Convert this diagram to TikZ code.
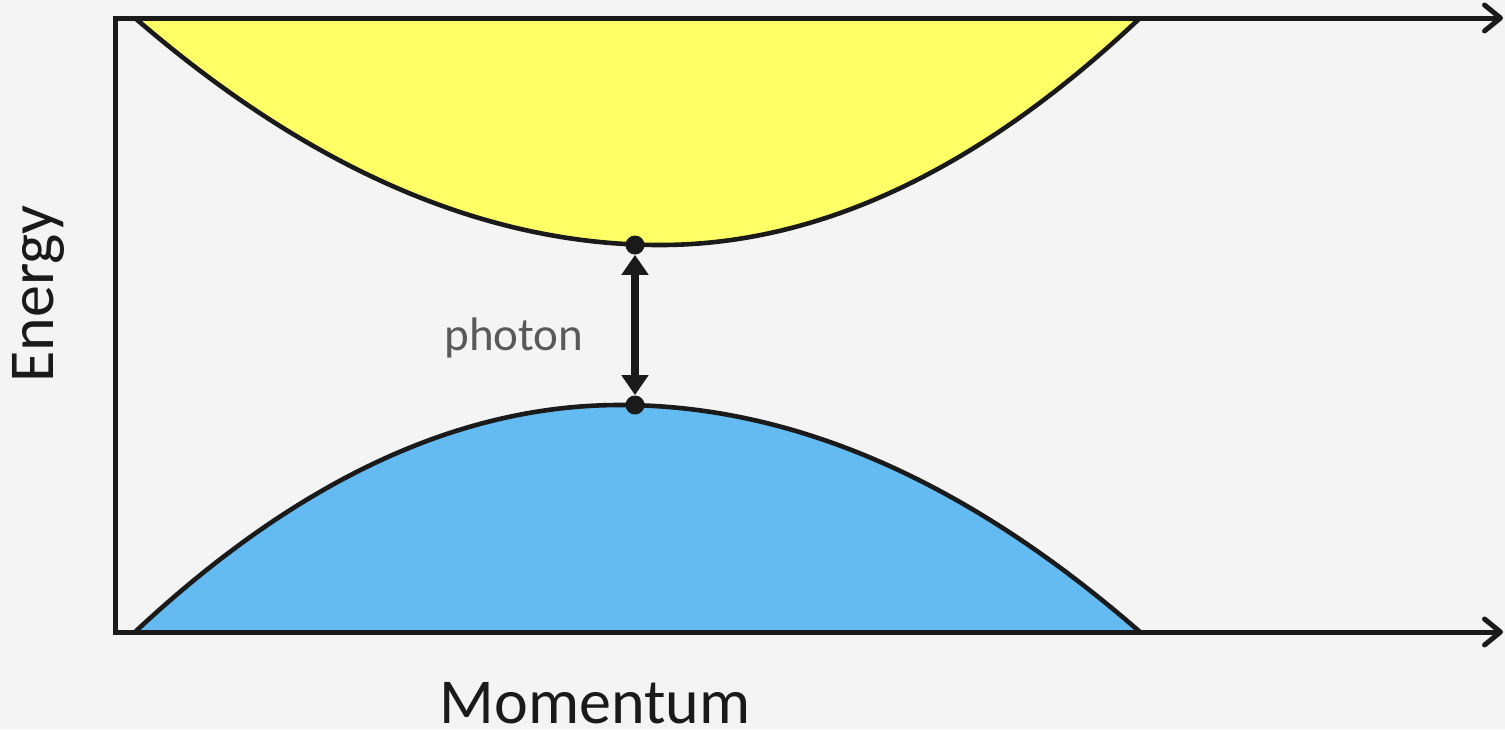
\documentclass[tikz,border=0pt]{standalone}
\usepackage{fontspec}
\setmainfont{Carlito}
\usetikzlibrary{arrows.meta}
\definecolor{bg}{HTML}{F4F4F4}
\definecolor{ink}{HTML}{1A1A1A}
\definecolor{cband}{HTML}{FFFF66}
\definecolor{vband}{HTML}{63BBF2}
\definecolor{lbl}{HTML}{595959}
\tikzset{
  axisline/.style={draw=ink, line width=2.5pt, -{Straight Barb[length=8pt,width=13pt,line width=2.5pt,round]}},
  bandline/.style={draw=ink, line width=2.3pt},
  dotnode/.style={circle, fill=ink, inner sep=0pt, minimum size=9.5pt},
  axislabel/.style={text=ink, inner sep=0pt, font=\fontsize{32}{38}\selectfont},
}
\begin{document}
\begin{tikzpicture}[x=0.5pt,y=-0.5pt]
\useasboundingbox (0,0) rectangle (1505,729);
\fill[bg] (0,0) rectangle (1505,729);
% conduction band
\fill[cband] (135,18) .. controls (310,169.3) and (485,245) .. (660,245)
  .. controls (820,245) and (980,169.3) .. (1140,18) -- cycle;
\draw[bandline] (135,18) .. controls (310,169.3) and (485,245) .. (660,245)
  .. controls (820,245) and (980,169.3) .. (1140,18);
% valence band
\fill[vband] (135,632) .. controls (296.7,480.7) and (458.3,405) .. (620,405)
  .. controls (793.3,405) and (966.7,480.7) .. (1140,632) -- cycle;
\draw[bandline] (135,632) .. controls (296.7,480.7) and (458.3,405) .. (620,405)
  .. controls (793.3,405) and (966.7,480.7) .. (1140,632);
% axes
\coordinate (o) at (115,632);
\coordinate (tl) at (115,18);
\coordinate (tr) at (1503,18);
\coordinate (br) at (1503,632);
\draw[draw=ink, line width=2.5pt, line join=miter] (tl) -- (o);
\draw[axisline] (112.5,18) -- (tr);
\draw[axisline] (112.5,632) -- (br);
% photon transition
\node[dotnode] (cb) at (635,245) {};
\node[dotnode] (vb) at (635,405) {};
\draw[draw=ink, line width=4pt, {Triangle[length=10pt,width=13pt]}-{Triangle[length=10pt,width=13pt]}] (cb.south) -- (vb.north);
\node[text=lbl, font=\fontsize{23.5}{28}\selectfont] (ph) at (514,338) {photon};
% labels
\node[axislabel, rotate=90] (en) at (38,294) {Energy};
\node[axislabel, anchor=base] (mo) at (595,723) {Momentum};
\end{tikzpicture}
\end{document}
